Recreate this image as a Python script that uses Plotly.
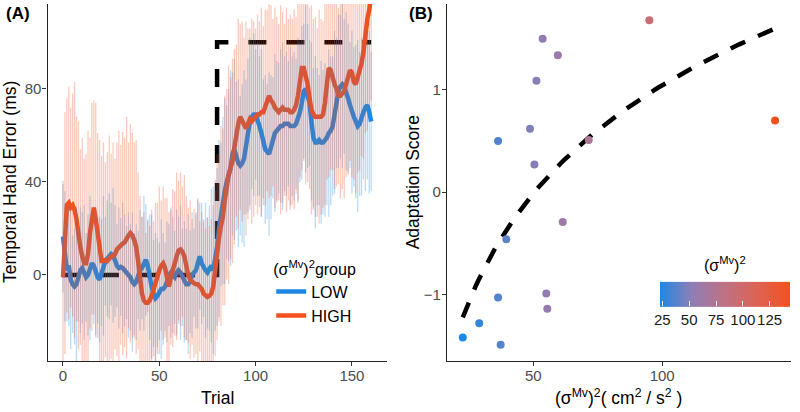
import numpy as np
import plotly.graph_objects as go

# ---------------- Panel A data ----------------
TRIALS = list(range(0, 161))

LOW_MEAN = [
    16.5, 8, 2, 4, -2, -4, -5, -4, 0, 2,
    3, 1, -1, 0, 3, 5, 4, 1, -1, -2,
    1, 4, 6, 7, 8, 9, 8.5, 6, 4, 3,
    3.5, 3, 2, 1, 0, -1, -3, -4, -3, 0,
    2, 3, 5, 6.5, 4, -1, -5, -8, -10, -9,
    -7, -6, -6, -5, -3, 0, 1, 0, -1, 1,
    2, 1, -1, -3, -4, -4, -3, 0, 1, 2,
    5, 8, 5, 3, 2, 1, 3, 4, 2, 6,
    12, 20, 26, 32, 36, 40, 43, 46, 52, 54,
    51, 48, 47, 48, 50, 55, 60, 66, 68, 69,
    69, 67, 64, 61, 57, 54, 53, 52, 55, 59,
    61, 62, 63, 64, 64, 65, 65, 65, 64, 64,
    64, 65, 67, 70, 74, 79, 80, 77, 74, 66,
    59, 57, 57, 58, 57, 57, 58, 59, 61, 62,
    64, 70, 74, 79, 81, 82, 81, 79, 76, 73,
    70, 68, 66, 64, 65, 68, 70, 72, 73, 70,
    66,
]

HIGH_MEAN = [
    -1, 18, 30, 31, 29, 30, 28, 24, 17, 12,
    8, 5, 5, 9, 18, 25, 29, 24, 17, 10,
    6, 6, 6.5, 6, 7, 8, 8, 9, 11, 12,
    13, 13.5, 14, 16, 17, 18, 17, 15, 12, 6,
    -2, -8, -11, -12, -12, -11, -9, -6, -3, 0,
    2, 4, 5, 3, -2, -5, -1, 3, 5, 8,
    10.5, 11, 10, 8, 3, 0, -2, -3, -3.5, -4,
    -4, -5, -6, -8, -9, -9.5, -9, -8, -5, 3,
    12, 16, 21, 25, 32, 39, 43, 46, 49, 55,
    62, 65, 68, 66, 64, 63, 65, 67, 66, 67,
    68, 69, 69, 70, 70, 72, 75, 77, 75, 74,
    72, 71, 70, 71, 72, 71, 71, 71, 70, 70,
    71, 73, 77, 83, 89, 89, 86, 82, 76, 71,
    69, 68, 68, 68, 68, 69, 74, 82, 89, 88,
    84, 82, 80, 77, 77, 78, 79, 82, 86, 88,
    87, 83, 82, 85, 89, 91, 96, 104, 110, 114,
    120,
]

LOW_ERR = [
    24, 28, 22, 26, 30, 21, 25, 33, 20, 27, 24, 29, 19, 26, 31, 22, 25, 28, 20, 27,
    23, 30, 19, 25, 27, 22, 29, 24, 18, 26, 21, 28, 24, 20, 27, 23, 30, 22, 25, 19,
    26, 22, 29, 24, 20, 27, 31, 23, 28, 25, 21, 30, 24, 19, 26, 22, 28, 25, 20, 27,
    23, 29, 21, 26, 24, 30, 22, 27, 19, 25, 28, 23, 26, 21, 29, 24, 27, 33, 36, 30,
    34, 38, 31, 36, 40, 33, 37, 42, 35, 39, 32, 36, 30, 34, 38, 29, 33, 36, 31, 35,
    28, 33, 30, 36, 27, 32, 29, 35, 31, 26, 34, 30, 28, 33, 36, 29, 31, 27, 34, 30,
    32, 28, 35, 30, 33, 29, 36, 31, 27, 34, 30, 37, 32, 28, 35, 31, 33, 29, 36, 32,
    30, 35, 28, 33, 31, 36, 29, 34, 32, 27, 35, 30, 33, 37, 31, 34, 29, 36, 32, 35, 30,
]

HIGH_ERR = [
    40, 52, 46, 50, 43, 48, 55, 44, 49, 42, 51, 45, 47, 53, 41, 49, 46, 50, 44, 48,
    45, 51, 42, 47, 53, 44, 49, 41, 46, 50, 43, 48, 45, 52, 40, 47, 44, 42, 46, 38,
    36, 33, 38, 30, 35, 32, 37, 29, 34, 31, 36, 28, 33, 30, 35, 32, 29, 34, 31, 36,
    30, 33, 28, 35, 31, 29, 34, 27, 32, 30, 36, 28, 33, 31, 29, 34, 30, 32, 35, 38,
    40, 36, 43, 38, 45, 41, 47, 39, 44, 42, 37, 45, 40, 43, 38, 46, 41, 39, 44, 42,
    38, 43, 40, 45, 37, 42, 39, 44, 41, 36, 43, 40, 38, 45, 41, 37, 44, 39, 42, 40,
    43, 38, 46, 41, 44, 40, 47, 42, 39, 45, 41, 43, 38, 46, 42, 40, 44, 41, 47, 43,
    39, 45, 42, 38, 44, 41, 46, 40, 43, 39, 45, 42, 47, 41, 44, 40, 46, 43, 48, 42, 45,
]

# perturbation schedule (step)
PERT_TRIAL = [0, 80, 160]
PERT_SIZE = [0, 100, 100]

GROUPS = ["LOW", "HIGH"]

# ---------------- Panel B data ----------------
MV_VAR = [95, 53.6, 59.5, 51.2, 143.8, 36.3, 48.7, 71.5, 50.4,
          61.4, 39.5, 36.3, 55, 55.4, 29, 22.6, 37.3]
ADAPT_SCORE = [1.68, 1.50, 1.34, 1.09, 0.70, 0.50, 0.62, 0.51, 0.27,
               -0.29, -0.46, -1.03, -0.99, -1.14, -1.28, -1.42, -1.49]
CB_TICKS = [25, 50, 75, 100, 125]

# ---------------- styling ----------------
BLUE = "#1E88E5"
ORANGE = "#F4511E"
BLUE_A = "rgba(30,136,229,0.3)"
ORANGE_A = "rgba(244,81,30,0.3)"
FONT = "Liberation Sans, Arial, sans-serif"
TICK_GREY = "#4D4D4D"
COLORSCALE = [[0.0, "#1E88E5"], [0.25, "#907DB4"], [0.5, "#BE7184"],
              [0.75, "#DC6354"], [1.0, "#F4511E"]]

fig = go.Figure()

# dashed perturbation
fig.add_trace(go.Scatter(x=PERT_TRIAL, y=PERT_SIZE, mode="lines", line_shape="hv",
                         line=dict(color="black", width=4.5, dash="18px,20px"),
                         showlegend=False, hoverinfo="skip", xaxis="x", yaxis="y"))

means = {"LOW": LOW_MEAN, "HIGH": HIGH_MEAN}
errs = {"LOW": LOW_ERR, "HIGH": HIGH_ERR}
cols = {"LOW": BLUE, "HIGH": ORANGE}
cols_a = {"LOW": BLUE_A, "HIGH": ORANGE_A}

for g in GROUPS:
    fig.add_trace(go.Scatter(x=TRIALS, y=means[g], mode="lines", name=g,
                             line=dict(color=cols[g], width=4.5),
                             xaxis="x", yaxis="y"))
for g in GROUPS:
    fig.add_trace(go.Scatter(x=TRIALS, y=means[g], mode="markers",
                             marker=dict(size=0.1, opacity=0),
                             error_y=dict(type="data", array=errs[g], visible=True,
                                          color=cols_a[g], thickness=1.3, width=0),
                             showlegend=False, hoverinfo="skip",
                             xaxis="x", yaxis="y"))

# Panel B: fit curve y ~ log(x)
b, a = np.polyfit(np.log(MV_VAR), ADAPT_SCORE, 1)
xs = np.linspace(min(MV_VAR), max(MV_VAR), 100)
fig.add_trace(go.Scatter(x=xs, y=a + b * np.log(xs), mode="lines",
                         line=dict(color="black", width=4.5, dash="16px,14px"),
                         showlegend=False, hoverinfo="skip", xaxis="x2", yaxis="y2"))

fig.add_trace(go.Scatter(
    x=MV_VAR, y=ADAPT_SCORE, mode="markers", showlegend=False,
    marker=dict(size=8, color=MV_VAR, colorscale=COLORSCALE,
                cmin=min(MV_VAR), cmax=max(MV_VAR),
                colorbar=dict(orientation="h", x=0.914, xanchor="center",
                              y=0.177, yanchor="middle",
                              len=150, lenmode="pixels", thickness=25,
                              outlinewidth=0, tickvals=CB_TICKS, tickangle=0,
                              ticks="inside", tickcolor="white", ticklen=5,
                              tickfont=dict(size=15, color="#1a1a1a", family=FONT),
                              title=dict(text="(σ<sup>Mv</sup>)<sup>2</sup>", side="top",
                                         font=dict(size=16, color="black", family=FONT)))),
    xaxis="x2", yaxis="y2"))

axis_common = dict(showgrid=False, zeroline=False, showline=True, linecolor="#222222",
                   linewidth=1.3, ticks="outside", ticklen=4, tickcolor="#333333",
                   tickfont=dict(size=15, color=TICK_GREY, family=FONT))

fig.update_layout(
    width=800, height=412,
    margin=dict(l=0, r=0, t=4, b=51),
    plot_bgcolor="white", paper_bgcolor="white",
    font=dict(family=FONT, color="black"),
    xaxis=dict(domain=[48 / 800, 390 / 800], range=[-8, 168], tickvals=[0, 50, 100, 150],
               anchor="y", ticklabelstandoff=-3, **axis_common),
    yaxis=dict(domain=[0, 1], range=[-37, 116.5], tickvals=[0, 40, 80],
               anchor="x", ticklabelstandoff=-2, **axis_common),
    xaxis2=dict(domain=[451 / 800, 798 / 800], range=[16.5, 150], tickvals=[50, 100],
                anchor="y2", ticklabelstandoff=-3, **axis_common),
    yaxis2=dict(domain=[0, 1], range=[-1.65, 1.84], tickvals=[-1, 0, 1],
                anchor="x2", ticklabelstandoff=-2, **axis_common),
    legend=dict(x=0.342, y=0.30, xanchor="left", yanchor="top",
                bgcolor="rgba(0,0,0,0)", tracegroupgap=0,
                font=dict(size=16, family=FONT, color="black"),
                title=dict(text="(σ<sup>Mv</sup>)<sup>2</sup>group",
                           font=dict(size=16, family=FONT, color="black"))),
)

H = 357.0
def py(p):
    return (361 - p) / H

ann = [
    dict(text="<b>(A)</b>", x=4 / 800, y=py(13), xanchor="left", yanchor="middle", font=dict(size=17)),
    dict(text="<b>(B)</b>", x=411 / 800, y=py(13), xanchor="left", yanchor="middle", font=dict(size=17)),
    dict(text="Temporal Hand Error (ms)", x=10 / 800, y=py(182), textangle=-90,
         xanchor="center", yanchor="middle", font=dict(size=17.5)),
    dict(text="Trial", x=219 / 800, y=py(398), xanchor="center", yanchor="middle", font=dict(size=17.5)),
    dict(text="Adaptation Score", x=417 / 800, y=py(182), textangle=-90,
         xanchor="center", yanchor="middle", font=dict(size=17.5)),
    dict(text="(σ<sup>Mv</sup>)<sup>2</sup>( cm<sup>2</sup> / s<sup>2</sup> )", x=624 / 800, y=py(397),
         xanchor="center", yanchor="middle", font=dict(size=17.5)),
]
for a_ in ann:
    a_.update(xref="paper", yref="paper", showarrow=False)
    a_["font"].update(family=FONT, color="black")
fig.update_layout(annotations=ann)

fig.write_html("out.html", config={"displayModeBar": False},
               post_script="document.body.style.margin='0';document.body.style.overflow='hidden';")
